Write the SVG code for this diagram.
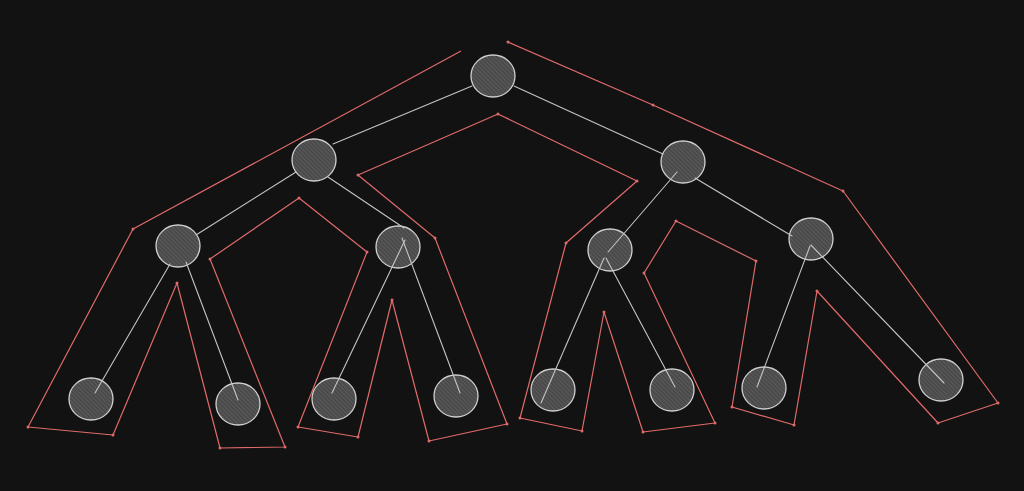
<svg xmlns="http://www.w3.org/2000/svg" width="1024" height="491" viewBox="0 0 1024 491">
<defs>
<pattern id="hatch" patternUnits="userSpaceOnUse" width="3" height="3" patternTransform="rotate(-45)">
<rect width="3" height="3" fill="#4a4a4a"/>
<line x1="0" y1="0" x2="0" y2="3" stroke="#6a6a6a" stroke-width="1"/>
</pattern>
<style>
.node ellipse{fill:url(#hatch);stroke:#d0d0d0;stroke-width:1.3}
.edge{stroke:#c4c4c4;stroke-width:1.1;fill:none;stroke-linecap:round}
.tour{stroke:#e06a6a;stroke-width:1.2;fill:none;stroke-linejoin:round}
.dot{fill:#e06a6a}
</style>
</defs>
<rect width="1024" height="491" fill="#121212"/>
<g id="nodes">
<g id="n-root" class="node"><ellipse cx="493" cy="76" rx="22" ry="21"/></g>
<g id="n-l" class="node"><ellipse cx="314" cy="160" rx="22" ry="21"/></g>
<g id="n-r" class="node"><ellipse cx="683" cy="162" rx="22" ry="21"/></g>
<g id="n-ll" class="node"><ellipse cx="178" cy="246" rx="22" ry="21"/></g>
<g id="n-lr" class="node"><ellipse cx="398" cy="247" rx="22" ry="21"/></g>
<g id="n-rl" class="node"><ellipse cx="610" cy="250" rx="22" ry="21"/></g>
<g id="n-rr" class="node"><ellipse cx="811" cy="239" rx="22" ry="21"/></g>
<g id="n-lll" class="node"><ellipse cx="91" cy="399" rx="22" ry="21"/></g>
<g id="n-llr" class="node"><ellipse cx="238" cy="404" rx="22" ry="21"/></g>
<g id="n-lrl" class="node"><ellipse cx="334" cy="399" rx="22" ry="21"/></g>
<g id="n-lrr" class="node"><ellipse cx="456" cy="396" rx="22" ry="21"/></g>
<g id="n-rll" class="node"><ellipse cx="553" cy="390" rx="22" ry="21"/></g>
<g id="n-rlr" class="node"><ellipse cx="672" cy="390" rx="22" ry="21"/></g>
<g id="n-rrl" class="node"><ellipse cx="764" cy="388" rx="22" ry="21"/></g>
<g id="n-rrr" class="node"><ellipse cx="941" cy="380" rx="22" ry="21"/></g>
</g>
<g id="connectors">
<line class="edge" x1="472" y1="86" x2="333" y2="144"/>
<line class="edge" x1="514" y1="86" x2="663" y2="154"/>
<line class="edge" x1="296" y1="172" x2="196" y2="235"/>
<line class="edge" x1="328" y1="177" x2="404" y2="228"/>
<line class="edge" x1="170" y1="264" x2="95" y2="393"/>
<line class="edge" x1="186" y1="262" x2="238" y2="400"/>
<line class="edge" x1="405" y1="240" x2="332" y2="393"/>
<line class="edge" x1="402" y1="238" x2="460" y2="393"/>
<line class="edge" x1="677" y1="172" x2="608" y2="252"/>
<line class="edge" x1="695" y1="178" x2="792" y2="236"/>
<line class="edge" x1="604" y1="258" x2="541" y2="403"/>
<line class="edge" x1="606" y1="258" x2="675" y2="387"/>
<line class="edge" x1="810" y1="246" x2="757" y2="387"/>
<line class="edge" x1="811" y1="245" x2="944" y2="383"/>
<polyline id="tour" class="tour" points="461,51 133,229 28,427 113,435 177,283 220,448 285,447 210,259 299,198 367,252 298,427 358,437 392,300 429,441 507,424 435,238 358,175 498,114 637,181 566,243 520,418 582,431 604,312 643,432 715,423 644,273 676,221 756,261 732,407 794,425 817,291 938,423 998,403 843,191 653,105 508,42"/>
<g id="tour-dots">
<circle class="dot" cx="133" cy="229" r="1.5"/><circle class="dot" cx="28" cy="427" r="1.5"/><circle class="dot" cx="113" cy="435" r="1.5"/><circle class="dot" cx="177" cy="283" r="1.5"/><circle class="dot" cx="220" cy="448" r="1.5"/><circle class="dot" cx="285" cy="447" r="1.5"/><circle class="dot" cx="210" cy="259" r="1.5"/><circle class="dot" cx="299" cy="198" r="1.5"/><circle class="dot" cx="367" cy="252" r="1.5"/><circle class="dot" cx="298" cy="427" r="1.5"/><circle class="dot" cx="358" cy="437" r="1.5"/><circle class="dot" cx="392" cy="300" r="1.5"/><circle class="dot" cx="429" cy="441" r="1.5"/><circle class="dot" cx="507" cy="424" r="1.5"/><circle class="dot" cx="435" cy="238" r="1.5"/><circle class="dot" cx="358" cy="175" r="1.5"/><circle class="dot" cx="498" cy="114" r="1.5"/><circle class="dot" cx="637" cy="181" r="1.5"/><circle class="dot" cx="566" cy="243" r="1.5"/><circle class="dot" cx="520" cy="418" r="1.5"/><circle class="dot" cx="582" cy="431" r="1.5"/><circle class="dot" cx="604" cy="312" r="1.5"/><circle class="dot" cx="643" cy="432" r="1.5"/><circle class="dot" cx="715" cy="423" r="1.5"/><circle class="dot" cx="644" cy="273" r="1.5"/><circle class="dot" cx="676" cy="221" r="1.5"/><circle class="dot" cx="756" cy="261" r="1.5"/><circle class="dot" cx="732" cy="407" r="1.5"/><circle class="dot" cx="794" cy="425" r="1.5"/><circle class="dot" cx="817" cy="291" r="1.5"/><circle class="dot" cx="938" cy="423" r="1.5"/><circle class="dot" cx="998" cy="403" r="1.5"/><circle class="dot" cx="843" cy="191" r="1.5"/><circle class="dot" cx="653" cy="105" r="1.5"/><circle class="dot" cx="508" cy="42" r="1.5"/>
</g>
</g>
</svg>
